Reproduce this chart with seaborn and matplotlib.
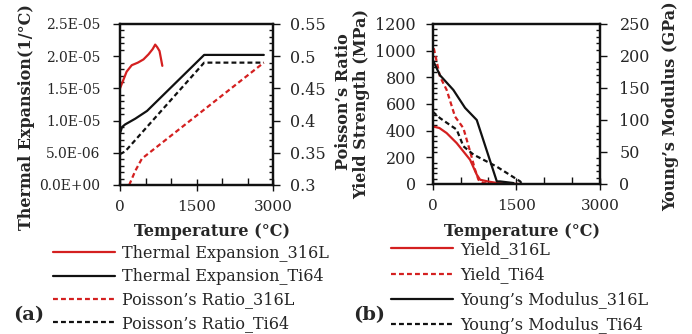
import numpy as np
import pandas as pd
import matplotlib
matplotlib.use("Agg")
import matplotlib.pyplot as plt
import seaborn as sns
from matplotlib.ticker import MultipleLocator, FixedLocator, FuncFormatter
from matplotlib.lines import Line2D

# ---------------- data ----------------
# Panel (a)
te_316l_T = [0, 60, 130, 230, 350, 460, 560, 640, 690, 730, 775, 830]
te_316l_v = [1.50e-5, 1.62e-5, 1.76e-5, 1.86e-5, 1.90e-5, 1.95e-5, 2.03e-5, 2.11e-5, 2.18e-5, 2.14e-5, 2.08e-5, 1.85e-5]
te_ti64_T = [0, 40, 100, 300, 530, 1650, 2820]
te_ti64_v = [0.80e-5, 0.90e-5, 0.94e-5, 1.03e-5, 1.15e-5, 2.02e-5, 2.02e-5]
pr_316l_T = [180, 300, 430, 2820]
pr_316l_v = [0.300, 0.322, 0.341, 0.490]
pr_ti64_T = [0, 100, 1650, 2820]
pr_ti64_v = [0.348, 0.352, 0.490, 0.490]

# Panel (b)
ys_316l_T = [0, 120, 250, 430, 670, 790, 850, 1000, 1150, 1350, 1570]
ys_316l_v = [432, 420, 382, 307, 182, 70, 32, 18, 8, 2, 0]
ys_ti64_T = [20, 130, 250, 400, 550, 670, 760, 820, 910, 1090]
ys_ti64_v = [1018, 806, 706, 506, 419, 245, 107, 32, 7, 0]
ym_316l_T = [0, 130, 370, 580, 790, 1150, 1210, 1450]
ym_316l_v = [194, 170, 147, 119, 100, 4, 4, 1.5]
ym_ti64_T = [0, 130, 430, 550, 730, 1150, 1570, 1600]
ym_ti64_v = [113, 103, 85, 59, 46, 27, 4, 0]

x_ticks = [0, 1500, 3000]
labels_a = ["Thermal Expansion_316L", "Thermal Expansion_Ti64", "Poisson’s Ratio_316L", "Poisson’s Ratio_Ti64"]
labels_b = ["Yield_316L", "Yield_Ti64", "Young’s Modulus_316L", "Young’s Modulus_Ti64"]

RED = "#d42020"
BLACK = "#111111"

sns.set_style("ticks")
plt.rcParams["font.family"] = ["DejaVu Serif", "DejaVu Sans"]

fig = plt.figure(figsize=(6.92, 3.34), dpi=100)

ax1 = fig.add_axes([120/692, 1-185/334, 153/692, 161/334])
ax2 = ax1.twinx()
ax3 = fig.add_axes([432.7/692, 1-184/334, 167.3/692, 160/334])
ax4 = ax3.twinx()

lw = 1.6
dash = (0, (2.2, 1.4))
sns.lineplot(x=te_316l_T, y=te_316l_v, ax=ax1, color=RED, lw=lw, sort=False)
sns.lineplot(x=te_ti64_T, y=te_ti64_v, ax=ax1, color=BLACK, lw=lw, sort=False)
sns.lineplot(x=pr_316l_T, y=pr_316l_v, ax=ax2, color=RED, lw=lw, ls=dash, sort=False)
sns.lineplot(x=pr_ti64_T, y=pr_ti64_v, ax=ax2, color=BLACK, lw=lw, ls=dash, sort=False)

sns.lineplot(x=ys_316l_T, y=ys_316l_v, ax=ax3, color=RED, lw=lw, sort=False)
sns.lineplot(x=ys_ti64_T, y=ys_ti64_v, ax=ax3, color=RED, lw=lw, ls=dash, sort=False)
sns.lineplot(x=ym_316l_T, y=ym_316l_v, ax=ax4, color=BLACK, lw=lw, sort=False)
sns.lineplot(x=ym_ti64_T, y=ym_ti64_v, ax=ax4, color=BLACK, lw=lw, ls=dash, sort=False)

lab_font = dict(fontsize=11.5, fontweight="bold")

for ax in (ax1, ax3):
    ax.set_xlim(0, 3000)
    ax.xaxis.set_major_locator(FixedLocator(x_ticks))
    ax.xaxis.set_minor_locator(MultipleLocator(500))
    ax.set_xlabel("Temperature (°C)", **lab_font)
    ax.xaxis.label.set_va("center")
ax1.xaxis.set_label_coords((212-120)/153, (185-231)/161)
ax3.xaxis.set_label_coords((522-432.7)/167.3, (184-231)/160)

ax1.set_ylim(0, 2.5e-5)
ax1.yaxis.set_major_locator(MultipleLocator(0.5e-5))
ax1.yaxis.set_minor_locator(MultipleLocator(0.1e-5))
ax1.yaxis.set_major_formatter(FuncFormatter(lambda v, p: f"{v:.1E}"))
ax1.set_ylabel("Thermal Expansion(1/°C)", **lab_font)
ax1.yaxis.set_label_coords((35-120)/153, 0.42)

ax2.set_ylim(0.3, 0.55)
ax2.yaxis.set_major_locator(MultipleLocator(0.05))
ax2.yaxis.set_minor_locator(MultipleLocator(0.01))
ax2.yaxis.set_major_formatter(FuncFormatter(lambda v, p: f"{v:.2f}".rstrip("0").rstrip(".")))
ax2.set_ylabel("Poisson’s Ratio", **lab_font)
ax2.yaxis.set_label_coords((335-120)/153, 0.516)

ax3.set_ylim(0, 1200)
ax3.yaxis.set_major_locator(MultipleLocator(200))
ax3.yaxis.set_minor_locator(MultipleLocator(40))
ax3.set_ylabel("Yield Strength (MPa)", **lab_font)
ax3.yaxis.set_label_coords((370-432.7)/167.3, 0.5)

ax4.set_ylim(0, 250)
ax4.yaxis.set_major_locator(MultipleLocator(50))
ax4.yaxis.set_minor_locator(MultipleLocator(10))
ax4.set_ylabel("Young’s Modulus (GPa)", **lab_font)
ax4.yaxis.set_label_coords((662-432.7)/167.3, 0.484)

for ax in (ax1, ax2, ax3, ax4):
    ax.tick_params(which="both", color=BLACK, width=1.0)
    ax.tick_params(which="major", axis="y", direction="out", length=5)
    ax.tick_params(which="minor", axis="y", direction="in", length=3)
    for s in ax.spines.values():
        s.set_visible(True)
        s.set_linewidth(1.6)
        s.set_color(BLACK)
for ax in (ax1, ax3):
    ax.tick_params(which="major", axis="x", direction="inout", length=8, labelsize=11, pad=7)
    ax.tick_params(which="minor", axis="x", direction="in", length=5)

ax1.tick_params(axis="y", which="major", labelsize=10, pad=9)
ax2.tick_params(axis="y", which="major", labelsize=11.5, pad=7)
ax3.tick_params(axis="y", which="major", labelsize=11.5, pad=7)
ax4.tick_params(axis="y", which="major", labelsize=11.5, pad=9)

h_a = [Line2D([], [], color=RED, lw=lw), Line2D([], [], color=BLACK, lw=lw),
       Line2D([], [], color=RED, lw=lw, ls=dash), Line2D([], [], color=BLACK, lw=lw, ls=dash)]
h_b = [Line2D([], [], color=RED, lw=lw), Line2D([], [], color=RED, lw=lw, ls=dash),
       Line2D([], [], color=BLACK, lw=lw), Line2D([], [], color=BLACK, lw=lw, ls=dash)]

leg_kw = dict(loc="upper left", frameon=False, prop=dict(family="DejaVu Serif", size=11.5),
              handlelength=3.9, handletextpad=0.45, borderaxespad=0, borderpad=0)
fig.legend(h_a, labels_a, bbox_to_anchor=(53/692, 1-245/334), labelspacing=0.39, **leg_kw)
fig.legend(h_b, labels_b, bbox_to_anchor=(391/692, 1-241/334), labelspacing=0.52, **leg_kw)

fig.text(13/692, 1-315/334, "(a)", fontsize=14, fontweight="bold", va="center", ha="left")
fig.text(353/692, 1-315/334, "(b)", fontsize=14, fontweight="bold", va="center", ha="left")

fig.savefig("out.png", dpi=100)
